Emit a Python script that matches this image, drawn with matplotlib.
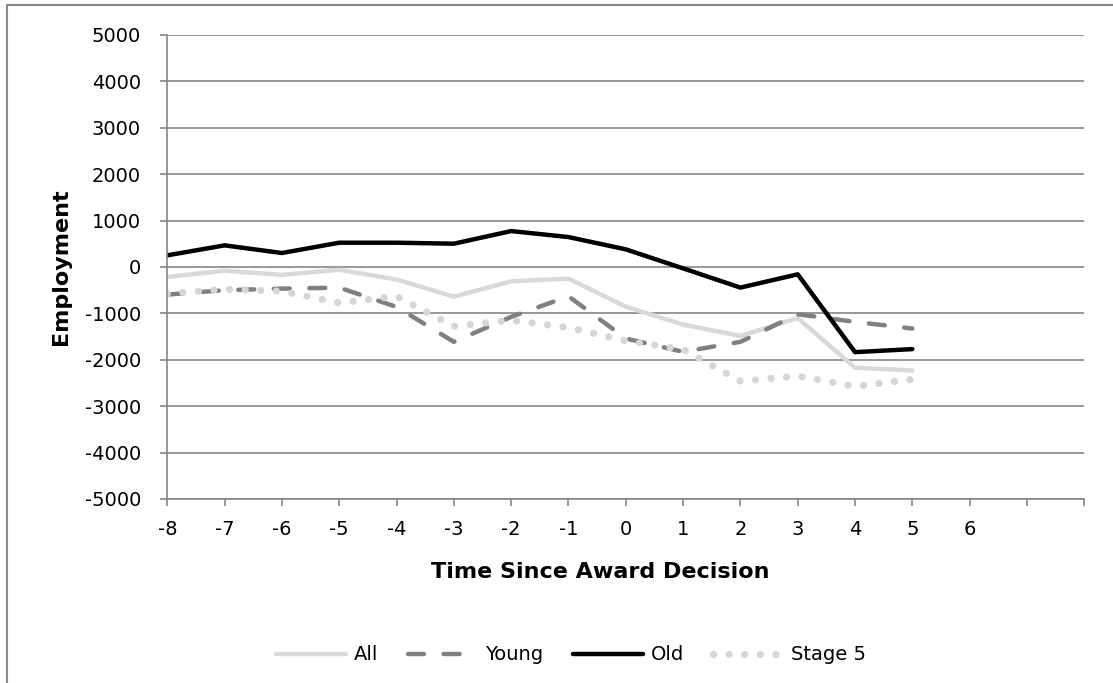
"""
Employment around award decision, four groups
"""

from matplotlib import pyplot as plt
from matplotlib.lines import Line2D

# categories on the x axis (two trailing empty slots, as in the source chart)
years = ['-8', '-7', '-6', '-5', '-4', '-3', '-2', '-1', '0', '1', '2', '3', '4', '5', '6', '', '']

all_firms = [-215, -80, -170, -60, -270, -640, -310, -250, -855, -1240, -1485, -1100, -2170, -2230]
young = [-595, -500, -466, -445, -860, -1613, -1075, -631, -1541, -1828, -1613, -1018, -1183, -1326]
old = [251, 466, 301, 523, 523, 502, 774, 645, 380, -30, -444, -158, -1835, -1770]
stage5 = [-573, -480, -523, -774, -631, -1276, -1147, -1305, -1591, -1778, -2459, -2351, -2573, -2423]

yticks = [-5000, -4000, -3000, -2000, -1000, 0, 1000, 2000, 3000, 4000, 5000]

grey = '#868686'
plt.rcParams['font.family'] = 'DejaVu Sans'

fig = plt.figure(figsize=(11.13, 6.83), dpi=100)
axes = fig.add_axes([0.1503, 0.2694, 0.8239, 0.6794])

x = list(range(len(all_firms)))
axes.plot(x, all_firms, color='#d9d9d9', lw=3.2, solid_capstyle='round', label='All')
axes.plot(x, young, color='#808080', lw=3.2, dashes=(3.6, 4.4), dash_capstyle='round', label='Young')
axes.plot(x, old, color='black', lw=3.2, solid_capstyle='round', label='Old')
axes.plot(x, stage5, color='#d6d6d6', lw=5.2, dashes=(0.01, 2.15), dash_capstyle='round', label='Stage 5')

axes.set_xlim(0, len(years) - 1)
axes.set_ylim(-5000, 5000)
axes.set_xticks(range(len(years)))
axes.set_xticklabels(years)
axes.set_yticks(yticks)
axes.set_yticklabels([str(t) for t in yticks])

axes.grid(axis='y', color=grey, lw=1.2)
axes.set_axisbelow(True)
for side in ['top', 'right']:
    axes.spines[side].set_visible(False)
for side in ['left', 'bottom']:
    axes.spines[side].set_color(grey)
    axes.spines[side].set_linewidth(1.2)

axes.tick_params(axis='both', direction='out', length=5, width=1.2, color=grey, labelsize=14)
axes.tick_params(axis='y', pad=14)
axes.tick_params(axis='x', pad=10)

axes.set_ylabel('Employment', fontsize=16, fontweight='bold', labelpad=10)
axes.set_xlabel('Time Since Award Decision', fontsize=16, fontweight='bold')
axes.xaxis.set_label_coords(0.472, -0.135)

fig.legend(loc='center', bbox_to_anchor=(0.513, 0.041), ncol=4, frameon=False,
           fontsize=14, handlelength=3.6, handletextpad=0.4, columnspacing=1.5)

# chart area border (only left and top fall inside the picture)
fig.add_artist(Line2D([7 / 1113, 7 / 1113], [0, 1 - 5 / 683], color=grey, lw=1.5))
fig.add_artist(Line2D([7 / 1113, 1], [1 - 5 / 683, 1 - 5 / 683], color=grey, lw=1.5))

fig.savefig('out.png', dpi=100)
